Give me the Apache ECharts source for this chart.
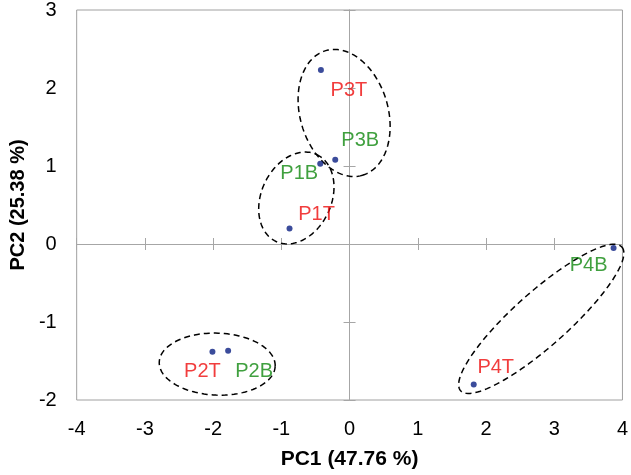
<!DOCTYPE html>
<html>
<head>
<meta charset="utf-8">
<script src="https://cdn.jsdelivr.net/npm/echarts@6/dist/echarts.min.js"></script>
<style>
  html, body { margin: 0; padding: 0; background: #fff; }
  #chart { width: 631px; height: 475px; }
</style>
</head>
<body>
<div id="chart"></div>
<script>
// sample scores on the first two principal components
const names = ['P1T', 'P1B', 'P2T', 'P2B', 'P3T', 'P3B', 'P4T', 'P4B'];
const pc1 = [-0.88, -0.43, -2.01, -1.78, -0.42, -0.21, 1.82, 3.87];
const pc2 = [0.20, 1.03, -1.38, -1.37, 2.23, 1.08, -1.80, -0.05];

// cluster ellipses: centre in PC units, semi axes (px) and tilt (deg, screen)
const ellipseCx = [-0.78, -1.94, -0.08, 2.81];
const ellipseCy = [0.59, -1.54, 1.68, -0.96];
const ellipseA = [48, 58, 65, 108];
const ellipseB = [35, 31, 44, 27];
const ellipseTilt = [-65, 2, 73.6, -41.7];

// label offsets next to each dot (px)
const labelOffsets = [[27, -14], [-21, 10], [-10, 20], [26, 21], [28, 20], [25, -19], [22, -17], [-25, 18]];

const FONT = 'Liberation Sans, Arial, sans-serif';
const AXIS_GREY = '#a6a6a6';

const chart = echarts.init(document.getElementById('chart'));

const points = names.map((n, i) => ({
    name: n,
    value: [pc1[i], pc2[i]],
    label: {
        offset: labelOffsets[i],
        color: n.endsWith('T') ? '#ee0d0d' : '#10880f'
    }
}));

const ellipses = ellipseCx.map((cx, i) => [cx, ellipseCy[i], ellipseA[i], ellipseB[i], ellipseTilt[i]]);

function renderEllipse(params, api) {
    const c = api.coord([api.value(0), api.value(1)]);
    const a = api.value(2), b = api.value(3);
    const t = api.value(4) * Math.PI / 180;
    const pts = [];
    for (let k = 0; k <= 120; k++) {
        const s = k / 120 * Math.PI * 2;
        const ex = a * Math.cos(s), ey = b * Math.sin(s);
        pts.push([c[0] + ex * Math.cos(t) - ey * Math.sin(t), c[1] + ex * Math.sin(t) + ey * Math.cos(t)]);
    }
    return {
        type: 'polyline',
        shape: { points: pts },
        style: { stroke: '#000', lineWidth: 1.5, lineDash: [6, 4], fill: null }
    };
}

const zeroAxis = (inside) => ({
    type: 'value', min: -4, max: 4, interval: 1,
    axisLine: { onZero: true, onZeroAxisIndex: 0, lineStyle: { color: AXIS_GREY, width: 1 } },
    axisTick: { show: true, inside: inside, length: 6, lineStyle: { color: AXIS_GREY } },
    axisLabel: { show: false },
    splitLine: { show: false }
});

const zeroAxisY = (inside) => ({
    type: 'value', min: -2, max: 3, interval: 1,
    axisLine: { onZero: true, onZeroAxisIndex: 0, lineStyle: { color: AXIS_GREY, width: 1 } },
    axisTick: { show: true, inside: inside, length: 6, lineStyle: { color: AXIS_GREY } },
    axisLabel: { show: false },
    splitLine: { show: false }
});

chart.setOption({
    animation: false,
    grid: {
        left: 67, right: 8, top: 9.5, bottom: 74,
        show: true, borderColor: '#a0a0a0', borderWidth: 1
    },
    xAxis: [
        {
            type: 'value', min: -4, max: 4, interval: 1, position: 'bottom',
            axisLine: { show: false, onZero: false },
            axisTick: { show: false },
            splitLine: { show: false },
            axisLabel: { fontSize: 20, color: '#000', margin: 19, fontFamily: FONT },
            name: 'PC1 (47.76 %)', nameLocation: 'middle', nameGap: 49,
            nameTextStyle: { fontSize: 21, fontWeight: 'bold', color: '#000', fontFamily: FONT }
        },
        zeroAxis(true),
        zeroAxis(false)
    ],
    yAxis: [
        {
            type: 'value', min: -2, max: 3, interval: 1, position: 'left',
            axisLine: { show: false, onZero: false },
            axisTick: { show: false },
            splitLine: { show: false },
            axisLabel: { fontSize: 20, color: '#000', margin: 20, fontFamily: FONT },
            name: 'PC2 (25.38 %)', nameLocation: 'middle', nameGap: 48,
            nameTextStyle: { fontSize: 20, fontWeight: 'bold', color: '#000', fontFamily: FONT }
        },
        zeroAxisY(true),
        zeroAxisY(false)
    ],
    series: [
        {
            type: 'custom',
            xAxisIndex: 0, yAxisIndex: 0,
            renderItem: renderEllipse,
            data: ellipses,
            silent: true,
            z: 3
        },
        {
            type: 'scatter',
            xAxisIndex: 0, yAxisIndex: 0,
            symbolSize: 6,
            itemStyle: { color: '#0a1f82' },
            data: points,
            label: {
                show: true,
                position: 'inside',
                formatter: '{b}',
                fontSize: 20,
                fontFamily: FONT
            },
            z: 4
        }
    ]
});
</script>
</body>
</html>
